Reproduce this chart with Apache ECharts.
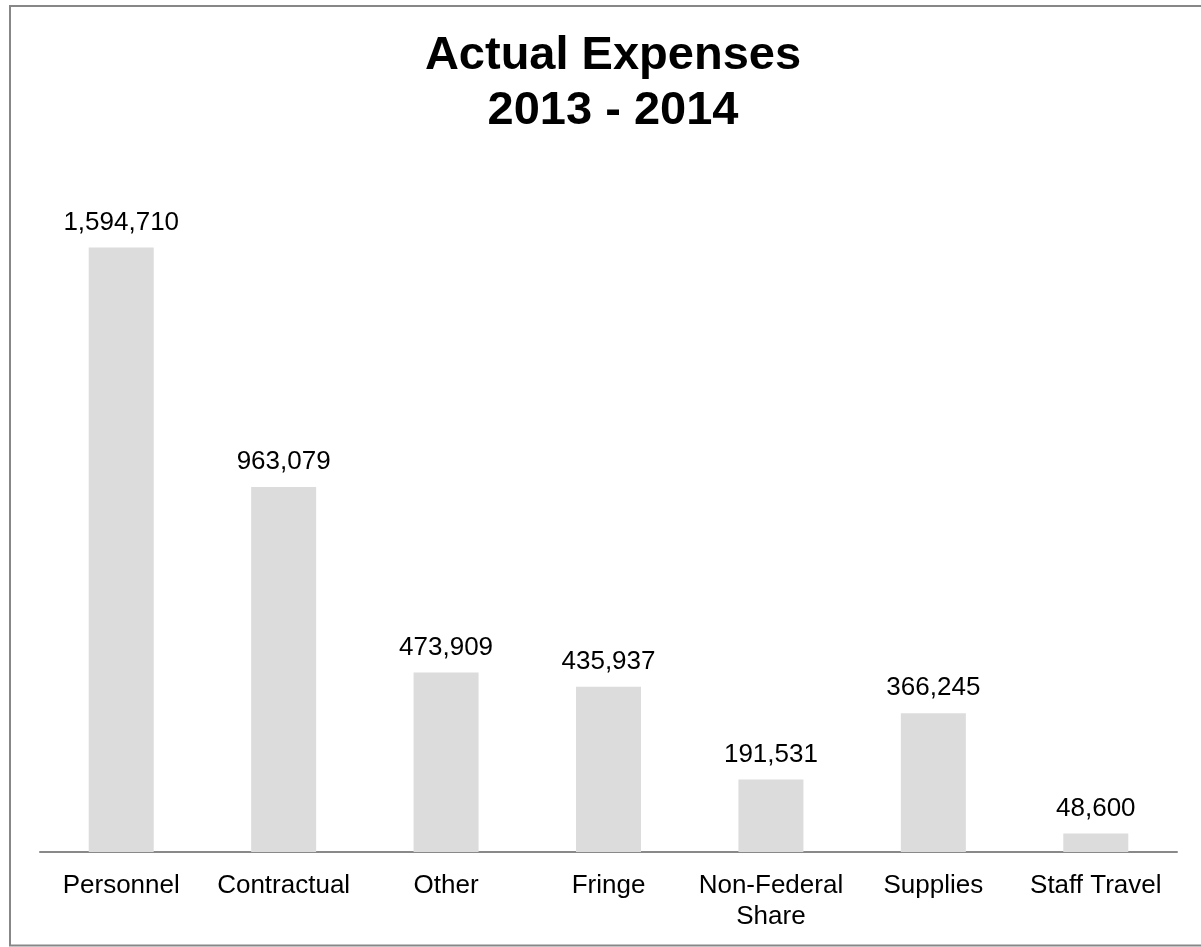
<!DOCTYPE html>
<html>
<head>
<meta charset="utf-8">
<title>Actual Expenses 2013 - 2014</title>
<script src="https://cdn.jsdelivr.net/npm/echarts@6/dist/echarts.min.js"></script>
<style>
  html, body { margin: 0; padding: 0; background: #ffffff; }
  #chart { width: 1201px; height: 947px; }
</style>
</head>
<body>
<div id="chart"></div>
<script>
// Expense categories and their actual amounts for the fiscal period
const categories = ['Personnel', 'Contractual', 'Other', 'Fringe', 'Non-Federal\nShare', 'Supplies', 'Staff Travel'];
const amounts = [1594710, 963079, 473909, 435937, 191531, 366245, 48600];
const titleLines = ['Actual Expenses', '2013 - 2014'];

const FONT = '"Liberation Sans", Arial, Helvetica, sans-serif';

const chart = echarts.init(document.getElementById('chart'), null, { renderer: 'canvas' });

chart.setOption({
  backgroundColor: '#ffffff',
  animation: false,
  title: {
    text: titleLines.join('\n'),
    left: 608,
    top: 24,
    textAlign: 'center',
    textStyle: {
      fontFamily: FONT,
      fontSize: 47,
      fontWeight: 'bold',
      color: '#000000',
      lineHeight: 55
    }
  },
  graphic: [{
    type: 'rect',
    silent: true,
    shape: { x: 10, y: 6, width: 1205, height: 939.5 },
    style: { fill: 'none', stroke: '#878787', lineWidth: 2 }
  }],
  grid: {
    left: 40,
    right: 24,
    top: 94,
    bottom: 95,
    containLabel: false
  },
  xAxis: {
    type: 'category',
    data: categories,
    axisLine: { show: true, lineStyle: { color: '#898989', width: 2 } },
    axisTick: { show: false },
    axisLabel: {
      interval: 0,
      margin: 18,
      color: '#000000',
      fontFamily: FONT,
      fontSize: 26,
      lineHeight: 31
    },
    splitLine: { show: false }
  },
  yAxis: {
    type: 'value',
    min: 0,
    max: 2000000,
    show: false,
    splitLine: { show: false }
  },
  series: [{
    type: 'bar',
    data: amounts,
    barWidth: 65,
    itemStyle: { color: '#dcdcdc' },
    label: {
      show: true,
      position: 'top',
      distance: 12,
      color: '#000000',
      fontFamily: FONT,
      fontSize: 26,
      formatter: p => p.value.toLocaleString('en-US')
    }
  }]
});
</script>
</body>
</html>
